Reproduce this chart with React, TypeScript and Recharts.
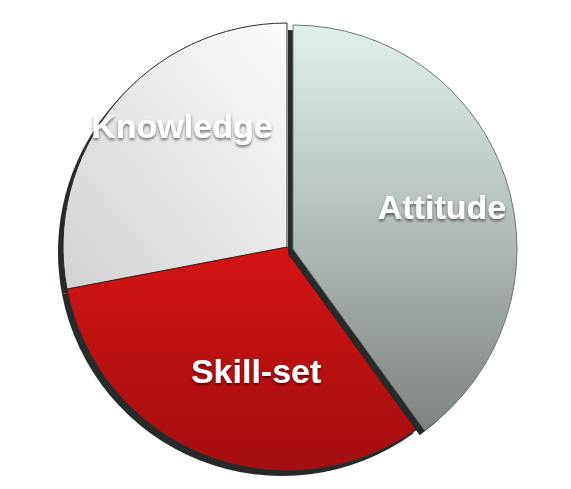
import { PieChart, Pie, Cell } from 'recharts';

const categories = ['Attitude', 'Skill-set', 'Knowledge'];
const shares = [40, 32, 28];

const data = categories.map((name, i) => ({ name, value: shares[i] }));

const gradients: Record<string, string> = {
  Attitude: 'url(#gradAttitude)',
  'Skill-set': 'url(#gradSkill)',
  Knowledge: 'url(#gradKnowledge)',
};

// small nudges so labels sit where the tilted 3D pie puts them
const labelNudge: Record<string, [number, number]> = {
  Attitude: [2, 6],
  'Skill-set': [26, -20],
  Knowledge: [14, -22],
};

const RADIAN = Math.PI / 180;

const makeLabel = (show: string[]) => (props: any) => {
  const name = props.name ?? props.payload?.name;
  if (!show.includes(name)) return null;
  const r = props.outerRadius * 0.69;
  const [nx, ny] = labelNudge[name] ?? [0, 0];
  const x = props.cx + r * Math.cos(-props.midAngle * RADIAN) + nx;
  const y = props.cy + r * Math.sin(-props.midAngle * RADIAN) + ny;
  return (
    <text
      x={x}
      y={y}
      fill="#ffffff"
      textAnchor="middle"
      dominantBaseline="central"
      fontSize={34}
      fontWeight="bold"
      fontFamily="'Liberation Sans', Arial, sans-serif"
      filter="url(#txtShadow)"
    >
      {name}
    </text>
  );
};

const CX = 282;
const CY = 242;
const R = 224;
const EXPLODE = 'Attitude';

export default function App() {
  const common = {
    data,
    dataKey: 'value',
    nameKey: 'name',
    startAngle: 90,
    endAngle: -270,
    outerRadius: R,
    labelLine: false,
    isAnimationActive: false,
  };

  return (
    <div style={{ position: 'absolute', left: 0, top: 0, background: '#fff' }}>
      <PieChart width={571} height={489}>
        <defs>
          <linearGradient id="gradAttitude" x1="0" y1="0" x2="0" y2="1">
            <stop offset="0%" stopColor="#e2f1ec" />
            <stop offset="50%" stopColor="#b3bdb9" />
            <stop offset="100%" stopColor="#7d8380" />
          </linearGradient>
          <linearGradient id="gradSkill" x1="0" y1="0" x2="0" y2="1">
            <stop offset="0%" stopColor="#d31313" />
            <stop offset="100%" stopColor="#a30e10" />
          </linearGradient>
          <linearGradient id="gradKnowledge" x1="1" y1="0" x2="0" y2="1">
            <stop offset="0%" stopColor="#fcfcfc" />
            <stop offset="100%" stopColor="#d2d2d2" />
          </linearGradient>
          <filter id="txtShadow" x="-20%" y="-40%" width="140%" height="180%">
            <feDropShadow dx="0" dy="2" stdDeviation="1.5" floodColor="#000" floodOpacity="0.55" />
          </filter>
        </defs>

        {/* thickness of the fixed slices */}
        <Pie {...common} cx={CX - 5} cy={CY + 5} label={false}>
          {data.map((d) => (
            <Cell key={d.name} fill={d.name === EXPLODE ? 'none' : '#262a29'} stroke="none" />
          ))}
        </Pie>
        <Pie {...common} cx={CX} cy={CY} label={makeLabel(['Skill-set', 'Knowledge'])}>
          {data.map((d) => (
            <Cell
              key={d.name}
              fill={d.name === EXPLODE ? 'none' : gradients[d.name]}
              stroke={d.name === EXPLODE ? 'none' : '#2a2a2a'}
              strokeWidth={1}
            />
          ))}
        </Pie>

        {/* exploded slice */}
        <Pie {...common} cx={CX + 6 - 5} cy={CY + 2 + 5} label={false}>
          {data.map((d) => (
            <Cell key={d.name} fill={d.name === EXPLODE ? '#262a29' : 'none'} stroke="none" />
          ))}
        </Pie>
        <Pie {...common} cx={CX + 6} cy={CY + 2} label={makeLabel([EXPLODE])}>
          {data.map((d) => (
            <Cell
              key={d.name}
              fill={d.name === EXPLODE ? gradients[d.name] : 'none'}
              stroke={d.name === EXPLODE ? '#6f7774' : 'none'}
              strokeWidth={1}
            />
          ))}
        </Pie>
      </PieChart>
    </div>
  );
}
